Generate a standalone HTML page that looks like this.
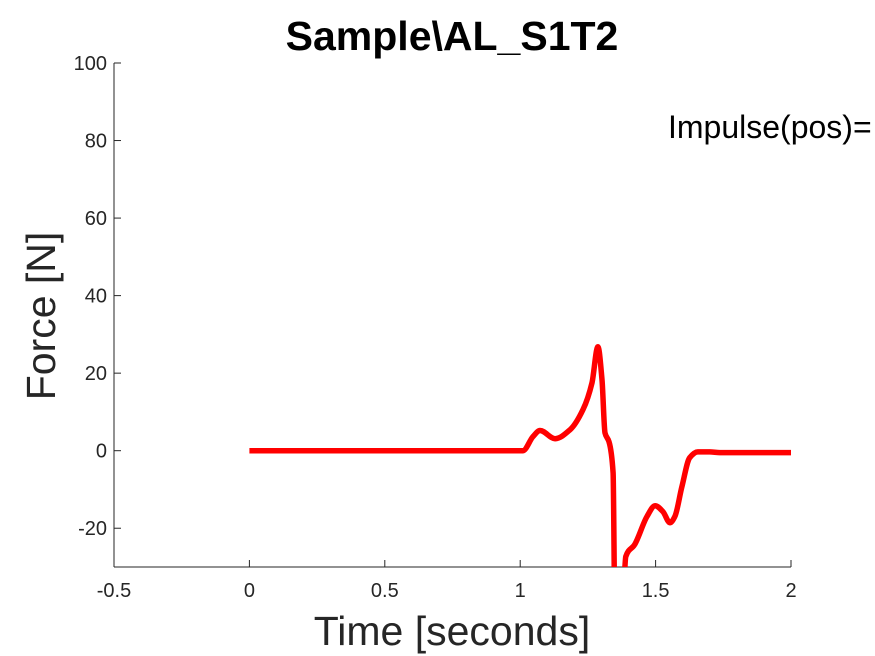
<!DOCTYPE html>
<html><head><meta charset="utf-8"><style>
body{margin:0;background:#fff;}
svg{display:block;font-family:"Liberation Sans",sans-serif;}
</style></head><body>
<svg id="chart" width="875" height="656">
<defs><clipPath id="plotclip"><rect x="114" y="63" width="677" height="504"/></clipPath></defs>
<text x="452" y="50" text-anchor="middle" font-size="41" font-weight="bold" fill="#000">Sample\AL_S1T2</text>
<text x="668" y="138" font-size="32" fill="#000">Impulse(pos)=</text>
<text transform="translate(55,316) rotate(-90)" text-anchor="middle" font-size="41" fill="#262626">Force [N]</text>
<text x="452" y="645" text-anchor="middle" font-size="41" fill="#262626">Time [seconds]</text>
<g id="axes"></g>
<path id="series" fill="none" stroke="#ff0000" stroke-width="5.5" stroke-linejoin="round" clip-path="url(#plotclip)"/>
</svg>
<script>
const xTicks=[-0.5,0,0.5,1,1.5,2];
const xTickLabels=["-0.5","0","0.5","1","1.5","2"];
const yTicks=[-20,0,20,40,60,80,100];
const yTickLabels=["-20","0","20","40","60","80","100"];
const times=[0,0.5,1.01,1.047,1.073,1.129,1.184,1.232,1.265,1.287,1.302,1.313,1.328,1.343,1.35,1.365,1.38,1.39,1.423,1.468,1.498,1.527,1.553,1.571,1.597,1.626,1.656,1.7,1.737,2.0];
const forces=[0,0,0,3.6,5.2,3.1,5.4,10.6,17.5,26.8,18.3,4.6,2.3,-5.7,-45,-60,-40,-27.3,-24.2,-17,-14.2,-15.7,-18.6,-17,-9.3,-1.8,-0.3,-0.3,-0.5,-0.5];
const X0=114,X1=791,Y0=567,Y1=63,xMin=-0.5,xMax=2,yMin=-30,yMax=100;
const sx=v=>X0+(v-xMin)/(xMax-xMin)*(X1-X0);
const sy=v=>Y0-(v-yMin)/(yMax-yMin)*(Y0-Y1);
const NS="http://www.w3.org/2000/svg";
const g=document.getElementById('axes');
function mk(t,a){const e=document.createElementNS(NS,t);for(const k in a)e.setAttribute(k,a[k]);g.appendChild(e);return e;}
const xa=mk('line',{x1:X0,y1:Y0,x2:X1,y2:Y0,stroke:'#262626','stroke-width':1});


const ya=mk('line',{x1:X0,y1:Y0,x2:X0,y2:Y1,stroke:'#262626','stroke-width':1});


xTicks.forEach((v,i)=>{
 const x=sx(v);
 const t=mk('line',{x1:x,y1:Y0,x2:x,y2:Y0-7,stroke:'#262626'});
 
 
 const l=mk('text',{x:x,y:Y0+30,'text-anchor':'middle','font-size':20,fill:'#262626'});
 l.textContent=xTickLabels[i];
 
 
});
yTicks.forEach((v,i)=>{
 const y=sy(v);
 const t=mk('line',{x1:X0,y1:y,x2:X0+7,y2:y,stroke:'#262626'});
 
 
 const l=mk('text',{x:X0-7,y:y+7,'text-anchor':'end','font-size':20,fill:'#262626'});
 l.textContent=yTickLabels[i];
 
 
});
// monotone cubic (Fritsch-Carlson) in x
const P=times.map((t,i)=>[sx(t),sy(forces[i])]);
const n=P.length,h=[],s=[],m=[];
for(let i=0;i<n-1;i++){h[i]=P[i+1][0]-P[i][0];s[i]=(P[i+1][1]-P[i][1])/h[i];}
m[0]=s[0];m[n-1]=s[n-2];
for(let i=1;i<n-1;i++){
 if(s[i-1]*s[i]<=0)m[i]=0;
 else{const w1=2*h[i]+h[i-1],w2=h[i]+2*h[i-1];m[i]=(w1+w2)/(w1/s[i-1]+w2/s[i]);}
}
let d='M'+P[0][0].toFixed(1)+','+P[0][1].toFixed(1);
for(let i=0;i<n-1;i++){
 const dx=h[i]/3;
 d+='C'+(P[i][0]+dx).toFixed(1)+','+(P[i][1]+m[i]*dx).toFixed(1)+' '+(P[i+1][0]-dx).toFixed(1)+','+(P[i+1][1]-m[i+1]*dx).toFixed(1)+' '+P[i+1][0].toFixed(1)+','+P[i+1][1].toFixed(1);
}
document.getElementById('series').setAttribute('d',d);
</script>
</body></html>
